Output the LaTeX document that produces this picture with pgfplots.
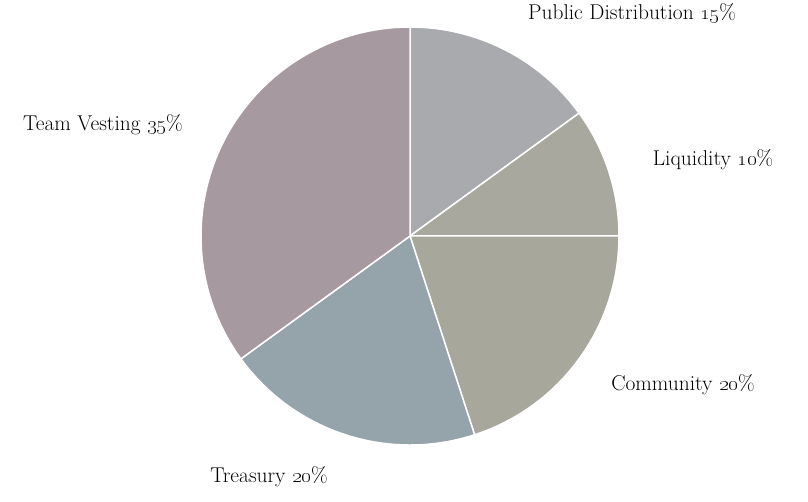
\documentclass[border=0pt]{standalone}
\usepackage{pgfplots}
\usepackage{pgfplotstable}
\pgfplotsset{compat=1.18}

\definecolor{cPub}{HTML}{A9AAAE}
\definecolor{cLiq}{HTML}{A8A89F}
\definecolor{cCom}{HTML}{A8A79C}
\definecolor{cTre}{HTML}{95A3AA}
\definecolor{cTeam}{HTML}{A69AA0}

\tikzset{lbl/.style={font=\fontsize{21.5}{25}\selectfont, text=black, inner sep=0pt}}

% share (%) and slice colour, clockwise from 12 o'clock
\pgfplotstableread{
value color
15 cPub
10 cLiq
20 cCom
20 cTre
35 cTeam
}\piedata

\begin{document}
\begin{tikzpicture}
\begin{axis}[
    scale only axis,
    width=808bp, height=502bp,
    xmin=0, xmax=808, ymin=0, ymax=502,
    axis lines=none,
    clip=false,
]
\path (axis cs:0,0) rectangle (axis cs:808,502);
\def\cum{0}
\pgfplotsforeachungrouped \i in {0,...,4}{
  \pgfplotstablegetelem{\i}{value}\of\piedata \let\val\pgfplotsretval
  \pgfplotstablegetelem{\i}{color}\of\piedata \let\col\pgfplotsretval
  \pgfmathsetmacro\sa{90-3.6*\cum}
  \pgfmathsetmacro\ea{90-3.6*(\cum+\val)}
  \edef\temp{\noexpand\fill[\col, draw=white, line width=1.5pt, line join=round]
    (axis cs:410,266) -- ++(\sa:209bp) arc[start angle=\sa, end angle=\ea, radius=209bp] -- cycle;}
  \temp
  \pgfmathsetmacro\cum{\cum+\val}
}
\node[lbl] at (axis cs:632,489) {Public Distribution \oldstylenums{15}\%};
\node[lbl] at (axis cs:713,342) {Liquidity \oldstylenums{10}\%};
\node[lbl] at (axis cs:683,117) {Community \oldstylenums{20}\%};
\node[lbl] at (axis cs:269,25) {Treasury \oldstylenums{20}\%};
\node[lbl] at (axis cs:103,377) {Team Vesting \oldstylenums{35}\%};
\end{axis}
\end{tikzpicture}
\end{document}
